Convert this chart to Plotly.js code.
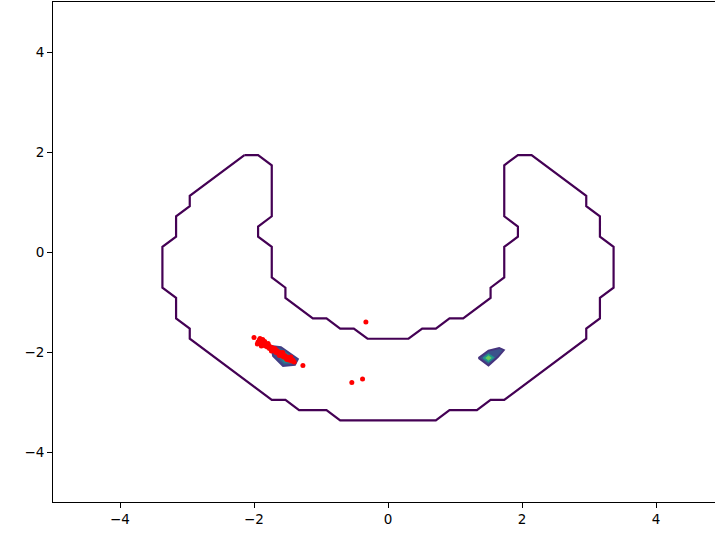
<!DOCTYPE html>
<html>
<head>
<meta charset="utf-8">
<script src="https://cdn.plot.ly/plotly-3.0.1.min.js"></script>
<style>
  html, body { margin: 0; padding: 0; overflow: hidden; background: #fff; }
  #chart { width: 730px; height: 539px; }
</style>
</head>
<body>
<div id="chart"></div>
<script>
// Lowest density level: a closed U-shaped contour traced on a 50x50 grid over [-5, 5]
const outerX = [-2.143, -1.939, -1.735, -1.735, -1.939, -1.939, -1.735, -1.735, -1.531, -1.531,
                -1.122, -0.918, -0.714, -0.510, -0.306, 0.306, 0.510, 0.714, 0.918, 1.122,
                1.531, 1.531, 1.735, 1.735, 1.939, 1.939, 1.735, 1.735, 1.939, 2.143,
                2.959, 2.959, 3.163, 3.163, 3.367, 3.367, 3.163, 3.163, 2.959, 2.959,
                1.735, 1.531, 1.327, 0.918, 0.714, -0.714, -0.918, -1.327, -1.531, -1.735,
                -2.959, -2.959, -3.163, -3.163, -3.367, -3.367, -3.163, -3.163, -2.959, -2.959,
                -2.143];
const outerY = [1.939, 1.939, 1.735, 0.714, 0.510, 0.306, 0.102, -0.510, -0.714, -0.918,
                -1.327, -1.327, -1.531, -1.531, -1.735, -1.735, -1.531, -1.531, -1.327, -1.327,
                -0.918, -0.714, -0.510, 0.102, 0.306, 0.510, 0.714, 1.735, 1.939, 1.939,
                1.122, 0.918, 0.714, 0.306, 0.102, -0.714, -0.918, -1.327, -1.531, -1.735,
                -2.959, -2.959, -3.163, -3.163, -3.367, -3.367, -3.163, -3.163, -2.959, -2.959,
                -1.735, -1.531, -1.327, -0.918, -0.714, 0.102, 0.306, 0.714, 0.918, 1.122,
                1.939];

// Higher density levels around the left mode
const leftL1X = [-1.746, -1.597, -1.343, -1.388, -1.567, -1.716, -1.746];
const leftL1Y = [-1.88, -1.90, -2.14, -2.26, -2.28, -2.08, -1.88];
const leftL2X = [-1.66, -1.56, -1.40, -1.43, -1.55, -1.64, -1.66];
const leftL2Y = [-1.95, -1.97, -2.14, -2.22, -2.22, -2.08, -1.95];
const leftL3X = [-1.54, -1.47, -1.43, -1.49, -1.54];
const leftL3Y = [-2.07, -2.09, -2.16, -2.17, -2.07];

// Higher density levels around the right mode
const rightL1X = [1.35, 1.50, 1.66, 1.73, 1.64, 1.50, 1.35];
const rightL1Y = [-2.12, -1.97, -1.92, -1.96, -2.10, -2.27, -2.12];
const rightL2X = [1.42, 1.50, 1.58, 1.50, 1.42];
const rightL2Y = [-2.12, -2.04, -2.11, -2.20, -2.12];
const rightL3X = [1.46, 1.50, 1.54, 1.50, 1.46];
const rightL3Y = [-2.12, -2.08, -2.12, -2.16, -2.12];

// Sample points
const sampleX = [-2.00, -1.94, -1.92, -1.90, -1.88, -1.86, -1.85, -1.83, -1.82, -1.80,
                 -1.78, -1.77, -1.75, -1.73, -1.72, -1.70, -1.68, -1.67, -1.65, -1.63,
                 -1.61, -1.60, -1.58, -1.56, -1.54, -1.52, -1.50, -1.48, -1.46, -1.44,
                 -1.42, -1.40, -1.27, -0.33, -0.38, -0.54, -1.91, -1.87, -1.84, -1.95,
                 -1.89, -1.79, -1.74, -1.69, -1.62, -1.57, -1.51, -1.45];
const sampleY = [-1.71, -1.80, -1.76, -1.83, -1.78, -1.86, -1.81, -1.88, -1.84, -1.90,
                 -1.87, -1.93, -1.90, -1.95, -1.92, -1.98, -1.95, -2.01, -1.98, -2.04,
                 -2.01, -2.07, -2.04, -2.10, -2.07, -2.13, -2.10, -2.16, -2.13, -2.18,
                 -2.16, -2.20, -2.27, -1.40, -2.54, -2.61, -1.73, -1.75, -1.79, -1.84,
                 -1.88, -1.83, -1.98, -1.93, -2.07, -2.01, -2.15, -2.10];

const xTicks = [-4, -2, 0, 2, 4];
const yTicks = [-4, -2, 0, 2, 4];

function level(x, y, line, fill, width) {
  return {
    type: 'scatter', mode: 'lines', x: x, y: y,
    line: { color: line, width: width },
    fill: fill ? 'toself' : 'none', fillcolor: fill || undefined,
    hoverinfo: 'skip', showlegend: false
  };
}

const traces = [
  level(outerX, outerY, '#440154', null, 2.2),
  level(leftL1X, leftL1Y, '#433e85', '#3b528b', 1.8),
  level(leftL2X, leftL2Y, '#2c728e', '#21918c', 1.2),
  level(leftL3X, leftL3Y, '#3dbc74', '#5ec962', 1),
  level(rightL1X, rightL1Y, '#46337e', '#3b528b', 1.8),
  level(rightL2X, rightL2Y, '#21918c', '#26a08a', 1.2),
  level(rightL3X, rightL3Y, '#5ec962', '#6ccd5a', 1),
  {
    type: 'scatter', mode: 'markers', x: sampleX, y: sampleY,
    marker: { color: 'red', size: 5, line: { width: 0 } },
    showlegend: false
  }
];

const axisCommon = {
  range: [-5, 5], showgrid: false, zeroline: false,
  showline: true, mirror: true, linecolor: '#000', linewidth: 1,
  ticks: 'outside', ticklen: 5, tickwidth: 1, tickcolor: '#000',
  tickfont: { family: 'DejaVu Sans', size: 13.5, color: '#000' }
};

const layout = {
  width: 730, height: 539,
  margin: { l: 53, r: 7, t: 2, b: 37 },
  paper_bgcolor: '#fff', plot_bgcolor: '#fff',
  xaxis: Object.assign({}, axisCommon, { tickvals: xTicks }),
  yaxis: Object.assign({}, axisCommon, { tickvals: yTicks }),
  showlegend: false
};

Plotly.newPlot('chart', traces, layout, { displayModeBar: false, staticPlot: true });
</script>
</body>
</html>
